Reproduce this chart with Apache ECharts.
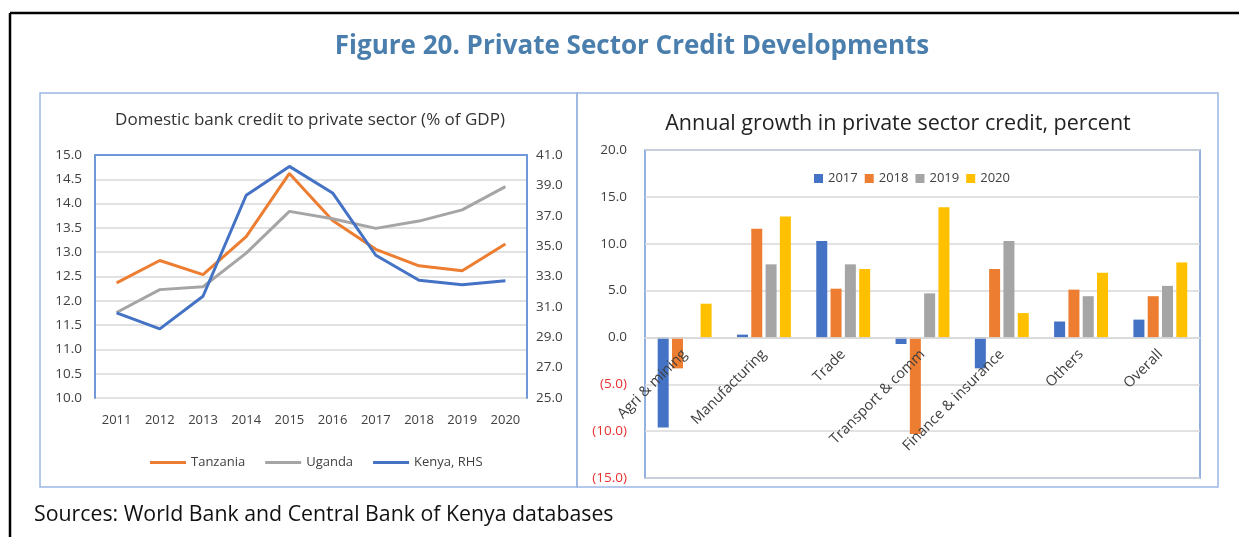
<!DOCTYPE html>
<html>
<head>
<meta charset="utf-8">
<script src="https://cdn.jsdelivr.net/npm/echarts@6/dist/echarts.min.js"></script>
<style>
  html, body { margin: 0; padding: 0; background: #fff; }
  #chart { width: 1239px; height: 537px; }
</style>
</head>
<body>
<div id="chart"></div>
<script>
  // left panel: credit to private sector, % of GDP
  const years = ['2011', '2012', '2013', '2014', '2015', '2016', '2017', '2018', '2019', '2020'];
  const tanzania = [12.37, 12.83, 12.54, 13.32, 14.62, 13.65, 13.06, 12.72, 12.62, 13.17];
  const uganda = [11.76, 12.23, 12.29, 12.98, 13.84, 13.69, 13.49, 13.64, 13.87, 14.35];
  const kenya = [30.6, 29.55, 31.7, 38.35, 40.25, 38.5, 34.4, 32.75, 32.45, 32.72];

  // right panel: annual growth by sector
  const sectors = ['Agri & mining', 'Manufacturing', 'Trade', 'Transport & comm', 'Finance & insurance', 'Others', 'Overall'];
  const g2017 = [-9.6, 0.3, 10.3, -0.7, -3.3, 1.7, 1.9];
  const g2018 = [-3.3, 11.6, 5.2, -10.3, 7.3, 5.1, 4.4];
  const g2019 = [0, 7.8, 7.8, 4.7, 10.3, 4.4, 5.5];
  const g2020 = [3.6, 12.9, 7.3, 13.9, 2.6, 6.9, 8.0];

  const blue = '#4472C4', orange = '#ED7D31', grey = '#A5A5A5', yellow = '#FFC000';
  const frame = '#6f98d8';
  const gridGrey = '#d9d9d9';
  const txt = '#404040';
  const font = 'Open Sans';

  const myChart = echarts.init(document.getElementById('chart'));

  const option = {
    animation: false,
    textStyle: { fontFamily: font },
    graphic: [
      { type: 'line', shape: { x1: 10, y1: 13, x2: 1239, y2: 13 }, style: { stroke: '#000', lineWidth: 2.5 } },
      { type: 'line', shape: { x1: 10, y1: 13, x2: 10, y2: 537 }, style: { stroke: '#000', lineWidth: 2.5 } },
      { type: 'rect', shape: { x: 40, y: 93, width: 537, height: 394 }, style: { fill: 'none', stroke: '#9ab6e3', lineWidth: 1.5 } },
      { type: 'rect', shape: { x: 577, y: 93, width: 641, height: 394 }, style: { fill: 'none', stroke: '#9ab6e3', lineWidth: 1.5 } },
      {
        type: 'text', x: 632, y: 47,
        style: { text: 'Figure 20. Private Sector Credit Developments', font: 'bold 26px "Open Sans"', fill: '#4a7ead', align: 'center', verticalAlign: 'middle' }
      },
      {
        type: 'text', x: 34, y: 515,
        style: { text: 'Sources: World Bank and Central Bank of Kenya databases', font: '21.3px "Open Sans"', fill: '#111', verticalAlign: 'middle' }
      },
      {
        type: 'text', x: 310, y: 120,
        style: { text: 'Domestic bank credit to private sector (% of GDP)', font: '17px "Open Sans"', fill: '#333', align: 'center', verticalAlign: 'middle' }
      },
      {
        type: 'text', x: 898, y: 124,
        style: { text: 'Annual growth in private sector credit, percent', font: '21.5px "Open Sans"', fill: '#222', align: 'center', verticalAlign: 'middle' }
      }
    ],
    legend: [
      {
        left: 145, top: 451,
        data: ['Tanzania', 'Uganda', 'Kenya, RHS'],
        icon: 'rect', itemWidth: 36, itemHeight: 3, itemGap: 20,
        textStyle: { fontSize: 13, color: txt, fontFamily: font }
      },
      {
        left: 809, top: 167,
        data: ['2017', '2018', '2019', '2020'],
        icon: 'rect', itemWidth: 9, itemHeight: 9, itemGap: 7,
        textStyle: { fontSize: 13, color: txt, fontFamily: font }
      }
    ],
    grid: [
      { left: 95, top: 155, width: 432, height: 243, outerBoundsMode: 'none' },
      { left: 645, top: 150, width: 555, height: 328, show: true, borderColor: frame, borderWidth: 1.5, outerBoundsMode: 'none' }
    ],
    xAxis: [
      {
        type: 'category', gridIndex: 0, data: years,
        axisLine: { show: false }, axisTick: { show: false },
        axisLabel: { color: txt, fontSize: 13, margin: 16 }
      },
      {
        type: 'category', gridIndex: 0, data: years, position: 'top',
        axisLine: { show: true, lineStyle: { color: frame, width: 2 } },
        axisTick: { show: false }, axisLabel: { show: false }
      },
      {
        // sector labels sit on the zero line and over the bars, as in the Excel original
        type: 'category', gridIndex: 1, data: sectors, offset: -140, z: 10,
        axisLine: { onZero: false, lineStyle: { color: gridGrey, width: 1.5 } },
        axisTick: { show: false },
        axisLabel: { color: txt, fontSize: 14.5, rotate: 45, margin: 14, interval: 0 }
      }
    ],
    yAxis: [
      {
        type: 'value', gridIndex: 0, min: 10, max: 15, interval: 0.5,
        axisLine: { show: true, lineStyle: { color: frame, width: 2 } },
        axisTick: { show: false },
        axisLabel: { color: txt, fontSize: 13.5, margin: 13, formatter: v => v.toFixed(1) },
        splitLine: { lineStyle: { color: gridGrey, width: 1.5 } }
      },
      {
        type: 'value', gridIndex: 0, min: 25, max: 41, interval: 2, position: 'right',
        axisLine: { show: true, lineStyle: { color: frame, width: 2 } },
        axisTick: { show: false },
        axisLabel: { color: txt, fontSize: 13.5, margin: 9, formatter: v => v.toFixed(1) },
        splitLine: { show: false }
      },
      {
        type: 'value', gridIndex: 1, min: -15, max: 20, interval: 5,
        axisLine: { show: false }, axisTick: { show: false },
        axisLabel: {
          fontSize: 13.5, margin: 18,
          color: v => (v < 0 ? '#e8322f' : txt),
          formatter: v => (v < 0 ? '(' + Math.abs(v).toFixed(1) + ')' : v.toFixed(1))
        },
        splitLine: { lineStyle: { color: gridGrey, width: 1.5 } }
      }
    ],
    series: [
      { name: 'Tanzania', type: 'line', xAxisIndex: 0, yAxisIndex: 0, data: tanzania, color: orange, symbol: 'none', lineStyle: { width: 3 } },
      { name: 'Uganda', type: 'line', xAxisIndex: 0, yAxisIndex: 0, data: uganda, color: grey, symbol: 'none', lineStyle: { width: 3 } },
      { name: 'Kenya, RHS', type: 'line', xAxisIndex: 0, yAxisIndex: 1, data: kenya, color: blue, symbol: 'none', lineStyle: { width: 3 } },
      { name: '2017', type: 'bar', xAxisIndex: 2, yAxisIndex: 2, data: g2017, color: blue, barWidth: 11, barGap: '30%' },
      { name: '2018', type: 'bar', xAxisIndex: 2, yAxisIndex: 2, data: g2018, color: orange, barWidth: 11, barGap: '30%' },
      { name: '2019', type: 'bar', xAxisIndex: 2, yAxisIndex: 2, data: g2019, color: grey, barWidth: 11, barGap: '30%' },
      { name: '2020', type: 'bar', xAxisIndex: 2, yAxisIndex: 2, data: g2020, color: yellow, barWidth: 11, barGap: '30%' }
    ]
  };
  myChart.setOption(option);
</script>
</body>
</html>
